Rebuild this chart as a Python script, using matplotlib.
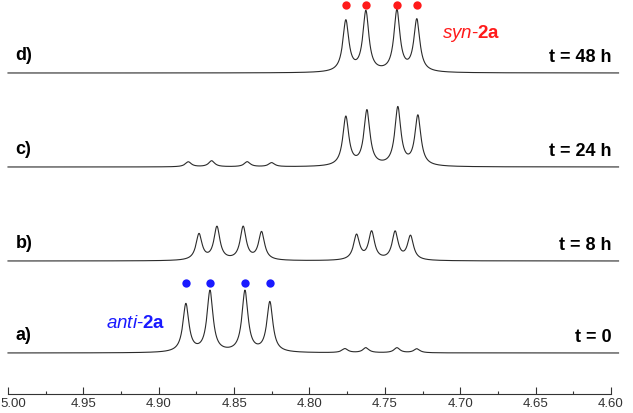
"""
Stacked 1H NMR spectra (anti-2a -> syn-2a epimerisation over time).
"""
import matplotlib
matplotlib.use("Agg")
import matplotlib.pyplot as plt
from matplotlib.ticker import MultipleLocator
import numpy as np

plt.rcParams.update({
    "font.family": ["Liberation Sans", "DejaVu Sans"],
    "mathtext.fontset": "custom",
    "mathtext.rm": "Liberation Sans",
    "mathtext.it": "Liberation Sans:italic",
    "mathtext.bf": "Liberation Sans:bold",
})

# ── Data (peak positions in ppm, heights in arbitrary units) ─────────────────
SPEC_LABELS = ["a)", "b)", "c)", "d)"]
TIME_LABELS = ["t = 0", "t = 8 h", "t = 24 h", "t = 48 h"]

ANTI_PPM = [
    [4.8820, 4.8660, 4.8428, 4.8263],   # a
    [4.8733, 4.8614, 4.8440, 4.8318],   # b
    [4.8804, 4.8649, 4.8413, 4.8251],   # c
    [4.8804, 4.8649, 4.8413, 4.8251],   # d
]
ANTI_HEIGHT = [
    [48, 61, 61, 50],
    [26, 33, 33, 28],
    [5, 6, 5, 4],
    [0, 0, 0, 0],
]
SYN_PPM = [
    [4.7765, 4.7626, 4.7420, 4.7288],
    [4.7688, 4.7588, 4.7432, 4.7330],
    [4.7759, 4.7619, 4.7414, 4.7281],
    [4.7759, 4.7626, 4.7420, 4.7288],
]
SYN_HEIGHT = [
    [4, 5, 5, 4],
    [25, 28, 28, 24],
    [49, 55, 58, 50],
    [51, 60, 61, 52],
]
HALF_WIDTH = 0.0024   # Lorentzian half width at half maximum, ppm

# ── Layout ───────────────────────────────────────────────────────────────────
OFFSETS = [41, 133, 227, 321]
ppm = np.linspace(4.595, 5.0, 4000)


def spectrum(positions, heights):
    y = np.zeros_like(ppm)
    for p, h in zip(positions, heights):
        y += h * HALF_WIDTH**2 / (HALF_WIDTH**2 + (ppm - p) ** 2)
    return y


fig = plt.figure(figsize=(6.33, 4.13), dpi=100)
ax = fig.add_axes([8 / 633, 19 / 413, 603 / 633, 394 / 413])

for i in range(4):
    y = spectrum(ANTI_PPM[i] + SYN_PPM[i], ANTI_HEIGHT[i] + SYN_HEIGHT[i])
    ax.plot(ppm, y + OFFSETS[i], color="#2b2b2b", lw=0.8, clip_on=False)
    ax.text(4.995, OFFSETS[i] + 18, SPEC_LABELS[i], fontsize=13,
            fontweight="bold", ha="left", va="center")
    ax.text(4.5995, OFFSETS[i] + 16, TIME_LABELS[i], fontsize=13,
            fontweight="bold", ha="right", va="center")

# markers on the multiplets
ax.plot(SYN_PPM[3], [389] * 4, "o", color="#ff1a1a", ms=6, mec="none",
        clip_on=False)
ax.plot(ANTI_PPM[0], [111] * 4, "o", color="#1a1aff", ms=6, mec="none",
        clip_on=False)
ax.text(4.712, 361, r"$\mathit{syn}$-$\mathbf{2a}$", color="#ff1a1a",
        fontsize=13.5, ha="left", va="center")
ax.text(4.935, 71, r"$\mathit{anti}$-$\mathbf{2a}$", color="#1a1aff",
        fontsize=13.5, ha="left", va="center")

ax.set_xlim(5.00, 4.60)
ax.set_ylim(0, 394)
ax.xaxis.set_major_locator(MultipleLocator(0.05))
ax.xaxis.set_minor_locator(MultipleLocator(0.025))
# 5.00 would be clipped by the figure edge, so it is drawn separately below
ax.xaxis.set_major_formatter(
    plt.FuncFormatter(lambda v, _: "" if v > 4.999 else f"{v:.2f}"))
ax.tick_params(axis="x", which="major", direction="in", length=5,
               width=0.8, labelsize=9.5, pad=3, colors="#333333")
ax.tick_params(axis="x", which="minor", direction="in", length=2.5,
               width=0.8, colors="#333333")
fig.text(0.5 / 633, 15 / 413, "5.00", fontsize=9.5, color="#333333",
         ha="left", va="top")
ax.set_yticks([])
for s in ("top", "left", "right"):
    ax.spines[s].set_visible(False)
ax.spines["bottom"].set_color("#333333")
ax.spines["bottom"].set_linewidth(0.8)
ax.patch.set_visible(False)

fig.savefig("out.png", dpi=100)
